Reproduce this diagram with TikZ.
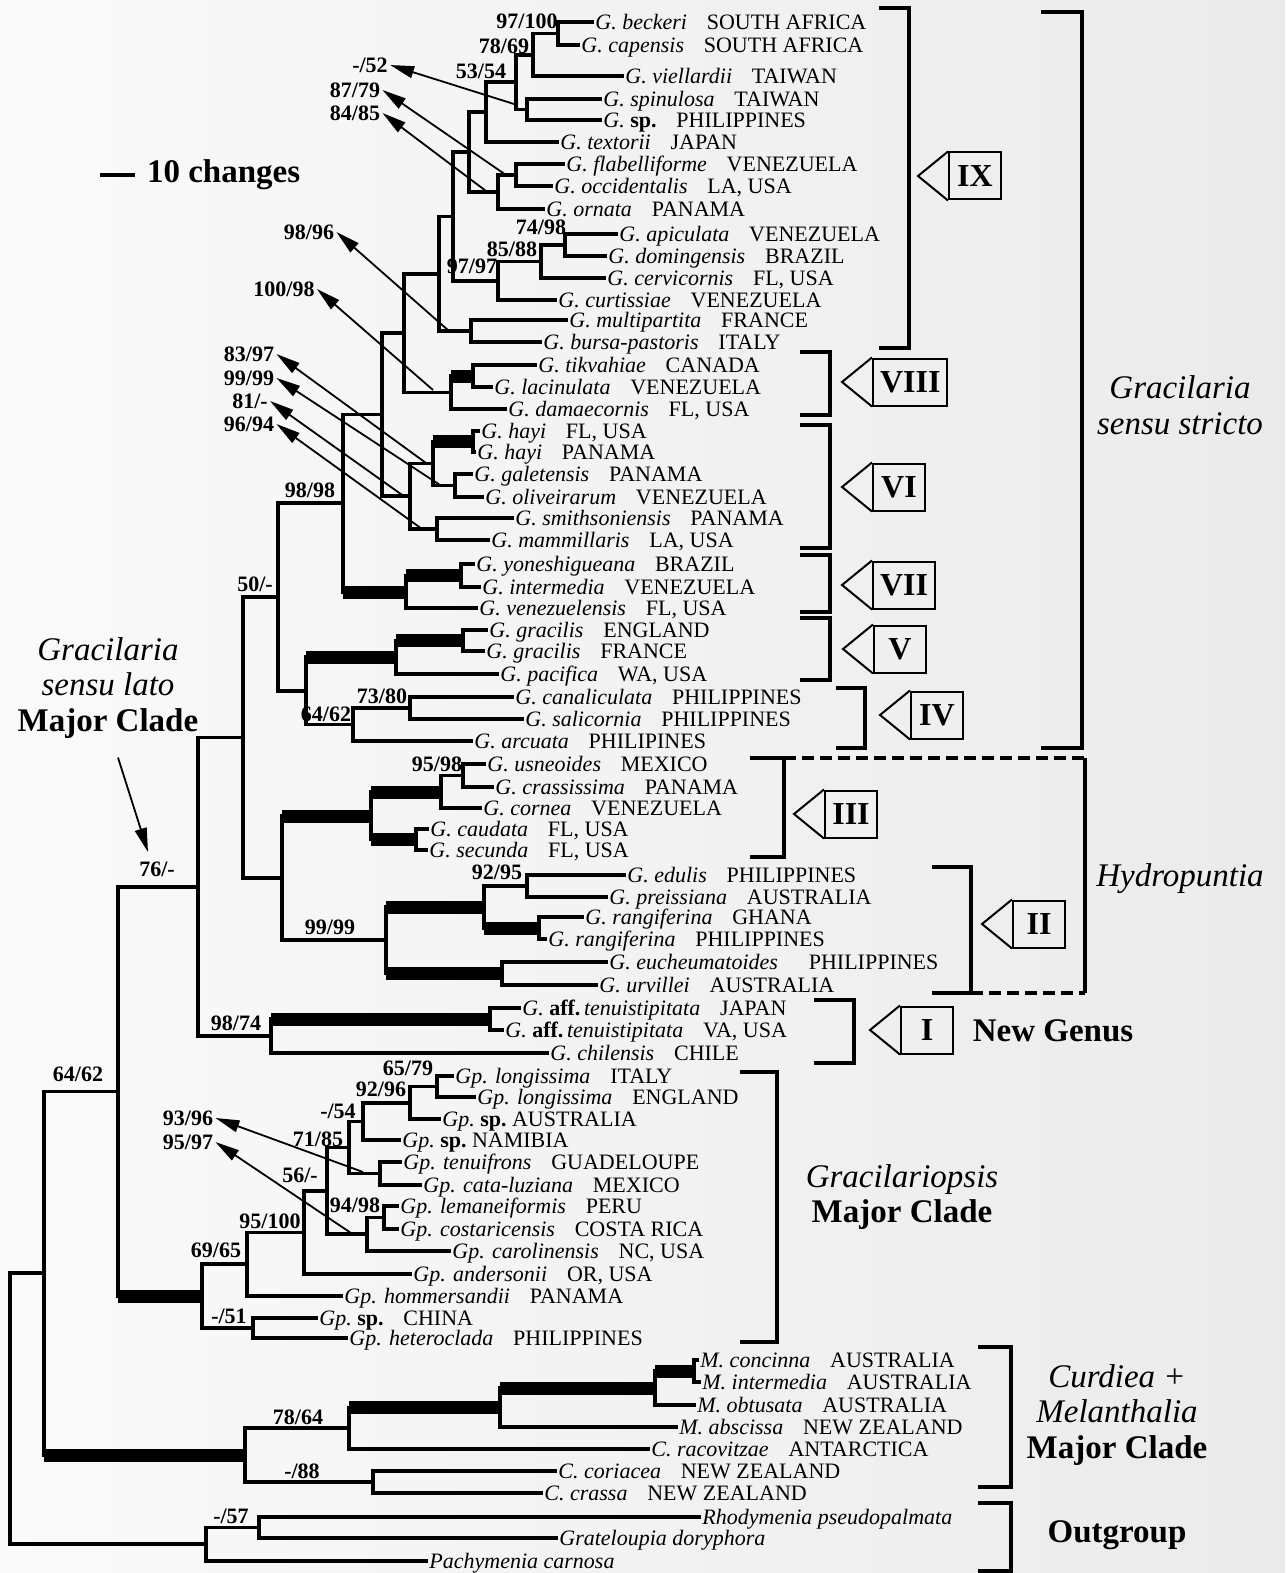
\documentclass[tikz,border=0pt]{standalone}
\usepackage{fontspec}
\setmainfont{Liberation Serif}
\usetikzlibrary{arrows.meta,calc}

% species name in italics, then the place
\newcommand\taxa[2]{\textit{#1}\hspace{.9em}#2}
% parent #1 joins #2 and #3 (#4, #5: extra style of the two branches)
\newcommand\clade[5]{%
  \draw[br] (#1 |- #2) -- (#1 |- #3);
  \draw[br,#4] (#1 |- #2) -- (#2);
  \draw[br,#5] (#1 |- #3) -- (#3);}

\begin{document}
\begin{tikzpicture}[x=0.5pt,y=-0.5pt,
  br/.style={line width=1.6pt,line cap=rect},
  thk/.style={line width=6.5pt,line cap=butt},
  taxon/.style={anchor=west,inner xsep=1.5pt,inner ysep=0pt,text height=7.3pt,text depth=0pt,font=\fontsize{11}{11}\selectfont},
  boot/.style={inner sep=1pt,font=\bfseries\fontsize{11}{11}\selectfont},
  ptr/.style={line width=0.9pt,-{Triangle[length=12pt,width=6pt]}},
  brk/.style={line width=2.2pt},
  numbox/.style={draw,line width=1pt,anchor=west,minimum height=23.5pt,minimum width=26pt,inner xsep=3.5pt,font=\bfseries\fontsize{16}{16}\selectfont},
  grp/.style={align=center,font=\fontsize{16.5}{17.75}\selectfont}]

\shade[left color=black!2,right color=black!8] (0,0) rectangle (1285,1573);
\useasboundingbox (0,0) rectangle (1285,1573);

% scale
\coordinate (bar) at (100,175);
\draw[line width=1.8pt] (bar) -- ++(35,0);
\node[anchor=west,font=\bfseries\fontsize{16.5}{16.5}\selectfont] (scl) at (140,175) {10 changes};

% taxa
\foreach \i/\px/\py/\txt in {
  1/592/22/{\taxa{G. beckeri}{SOUTH AFRICA}},
  2/578/45/{\taxa{G. capensis}{SOUTH AFRICA}},
  3/622/76/{\taxa{G. viellardii}{TAIWAN}},
  4/600/99/{\taxa{G. spinulosa}{TAIWAN}},
  5/600/120/{\textit{G.}~\textbf{sp.}\hspace{.9em}PHILIPPINES},
  6/557/142/{\taxa{G. textorii}{JAPAN}},
  7/563/164/{\taxa{G. flabelliforme}{VENEZUELA}},
  8/551/186/{\taxa{G. occidentalis}{LA, USA}},
  9/543/209/{\taxa{G. ornata}{PANAMA}},
  10/616/234/{\taxa{G. apiculata}{VENEZUELA}},
  11/605/256/{\taxa{G. domingensis}{BRAZIL}},
  12/604/278/{\taxa{G. cervicornis}{FL, USA}},
  13/555/300/{\taxa{G. curtissiae}{VENEZUELA}},
  14/566/320/{\taxa{G. multipartita}{FRANCE}},
  15/540/342/{\taxa{G. bursa-pastoris}{ITALY}},
  16/535/365/{\taxa{G. tikvahiae}{CANADA}},
  17/491/387/{\taxa{G. lacinulata}{VENEZUELA}},
  18/505/409/{\taxa{G. damaecornis}{FL, USA}},
  19/478/431/{\taxa{G. hayi}{FL, USA}},
  20/474/452/{\taxa{G. hayi}{PANAMA}},
  21/471/474/{\taxa{G. galetensis}{PANAMA}},
  22/482/497/{\taxa{G. oliveirarum}{VENEZUELA}},
  23/512/518/{\taxa{G. smithsoniensis}{PANAMA}},
  24/488/540/{\taxa{G. mammillaris}{LA, USA}},
  25/473/564/{\taxa{G. yoneshigueana}{BRAZIL}},
  26/479/587/{\taxa{G. intermedia}{VENEZUELA}},
  27/476/608/{\taxa{G. venezuelensis}{FL, USA}},
  28/486/630/{\taxa{G. gracilis}{ENGLAND}},
  29/483/651/{\taxa{G. gracilis}{FRANCE}},
  30/497/674/{\taxa{G. pacifica}{WA, USA}},
  31/512/697/{\taxa{G. canaliculata}{PHILIPPINES}},
  32/522/719/{\taxa{G. salicornia}{PHILIPPINES}},
  33/471/741/{\taxa{G. arcuata}{PHILIPINES}},
  34/484/764/{\taxa{G. usneoides}{MEXICO}},
  35/492/787/{\taxa{G. crassissima}{PANAMA}},
  36/480/808/{\taxa{G. cornea}{VENEZUELA}},
  37/427/829/{\taxa{G. caudata}{FL, USA}},
  38/426/850/{\taxa{G. secunda}{FL, USA}},
  39/624/875/{\taxa{G. edulis}{PHILIPPINES}},
  40/606/897/{\taxa{G. preissiana}{AUSTRALIA}},
  41/582/917/{\taxa{G. rangiferina}{GHANA}},
  42/545/939/{\taxa{G. rangiferina}{PHILIPPINES}},
  43/606/962/{\taxa{G. eucheumatoides}{\hspace{.5em}PHILIPPINES}},
  44/596/985/{\taxa{G. urvillei}{AUSTRALIA}},
  45/519/1008/{\textit{G.}~\textbf{aff.}\,\taxa{tenuistipitata}{JAPAN}},
  46/502/1030/{\textit{G.}~\textbf{aff.}\,\taxa{tenuistipitata}{VA, USA}},
  47/547/1053/{\taxa{G. chilensis}{CHILE}},
  48/452/1076/{\taxa{Gp. longissima}{ITALY}},
  49/474/1097/{\taxa{Gp. longissima}{ENGLAND}},
  50/439/1119/{\textit{Gp.}~\textbf{sp.}~AUSTRALIA},
  51/399/1140/{\textit{Gp.}~\textbf{sp.}~NAMIBIA},
  52/400/1162/{\taxa{Gp. tenuifrons}{GUADELOUPE}},
  53/420/1185/{\taxa{Gp. cata-luziana}{MEXICO}},
  54/397/1206/{\taxa{Gp. lemaneiformis}{PERU}},
  55/397/1229/{\taxa{Gp. costaricensis}{COSTA RICA}},
  56/449/1251/{\taxa{Gp. carolinensis}{NC, USA}},
  57/410/1274/{\taxa{Gp. andersonii}{OR, USA}},
  58/341/1296/{\taxa{Gp. hommersandii}{PANAMA}},
  59/316/1318/{\textit{Gp.}~\textbf{sp.}\hspace{.9em}CHINA},
  60/346/1338/{\taxa{Gp. heteroclada}{PHILIPPINES}},
  61/697/1360/{\taxa{M. concinna}{AUSTRALIA}},
  62/699/1382/{\taxa{M. intermedia}{AUSTRALIA}},
  63/694/1405/{\taxa{M. obtusata}{AUSTRALIA}},
  64/676/1427/{\taxa{M. abscissa}{NEW ZEALAND}},
  65/648/1449/{\taxa{C. racovitzae}{ANTARCTICA}},
  66/555/1471/{\taxa{C. coriacea}{NEW ZEALAND}},
  67/541/1493/{\taxa{C. crassa}{NEW ZEALAND}},
  68/699/1517/{\textit{Rhodymenia pseudopalmata}},
  69/556/1538/{\textit{Grateloupia doryphora}},
  70/426/1561/{\textit{Pachymenia carnosa}}}
  \node[taxon] (t\i) at (\px,\py) {\txt};

% inner nodes of the tree
\coordinate (a1) at (558,33.5);
\coordinate (a2) at (533,55);
\coordinate (a3) at (527,109.5);
\coordinate (a4) at (516,82);
\coordinate (a5) at (486,112);
\coordinate (a6) at (516,175);
\coordinate (a7) at (498,192);
\coordinate (a8) at (469,152);
\coordinate (a9) at (565,245);
\coordinate (a10) at (541,261.5);
\coordinate (a11) at (498,281);
\coordinate (a12) at (453,216.5);
\coordinate (a13) at (471,331);
\coordinate (a14) at (439,274);
\coordinate (b1) at (473,376);
\coordinate (b2) at (451,392.5);
\coordinate (a15) at (404,333);
\coordinate (c1) at (473,441.5);
\coordinate (c2) at (455,485.5);
\coordinate (c3) at (433,463.5);
\coordinate (c4) at (437,529);
\coordinate (c5) at (410,496);
\coordinate (a16) at (382,414.5);
\coordinate (d1) at (461,575.5);
\coordinate (d2) at (406,592);
\coordinate (a17) at (343,503);
\coordinate (e1) at (463,640.5);
\coordinate (e2) at (396,657);
\coordinate (f1) at (410,708);
\coordinate (f2) at (353,724.5);
\coordinate (g1) at (306,691);
\coordinate (g2) at (278,597);
\coordinate (h1) at (463,775.5);
\coordinate (h2) at (441,792);
\coordinate (h3) at (416,839.5);
\coordinate (h4) at (371,816);
\coordinate (i1) at (527,886);
\coordinate (i2) at (539,928);
\coordinate (i3) at (484,907);
\coordinate (i4) at (502,973.5);
\coordinate (i5) at (386,940);
\coordinate (j1) at (282,878);
\coordinate (j2) at (243,737.5);
\coordinate (k1) at (490,1019);
\coordinate (k2) at (271,1036);
\coordinate (j3) at (198,887);
\coordinate (l1) at (437,1086.5);
\coordinate (l2) at (410,1103);
\coordinate (l3) at (363,1121.5);
\coordinate (l4) at (380,1173.5);
\coordinate (l5) at (349,1147.5);
\coordinate (l6) at (384,1217.5);
\coordinate (l7) at (367,1234);
\coordinate (l8) at (327,1191);
\coordinate (l9) at (304,1232.5);
\coordinate (l10) at (247,1264);
\coordinate (l11) at (253,1328);
\coordinate (l12) at (202,1296);
\coordinate (j4) at (118,1091.5);
\coordinate (m1) at (694,1371);
\coordinate (m2) at (655,1388);
\coordinate (m3) at (500,1407.5);
\coordinate (m4) at (349,1428);
\coordinate (m5) at (373,1482);
\coordinate (m6) at (245,1455);
\coordinate (j5) at (44,1273);
\coordinate (o1) at (259,1527.5);
\coordinate (o2) at (206,1544);
\coordinate (root) at (10,1408.5);

% Gracilaria sensu stricto
\clade{a1}{t1.west}{t2.west}{}{}
\clade{a2}{a1}{t3.west}{}{}
\clade{a3}{t4.west}{t5.west}{}{}
\clade{a4}{a2}{a3}{}{}
\clade{a5}{a4}{t6.west}{}{}
\clade{a6}{t7.west}{t8.west}{}{}
\clade{a7}{a6}{t9.west}{}{}
\clade{a8}{a5}{a7}{}{}
\clade{a9}{t10.west}{t11.west}{}{}
\clade{a10}{a9}{t12.west}{}{}
\clade{a11}{a10}{t13.west}{}{}
\clade{a12}{a8}{a11}{}{}
\clade{a13}{t14.west}{t15.west}{}{}
\clade{a14}{a12}{a13}{}{}
\clade{b1}{t16.west}{t17.west}{}{}
\clade{b2}{b1}{t18.west}{thk}{}
\clade{a15}{a14}{b2}{}{}
\clade{c1}{t19.west}{t20.west}{}{}
\clade{c2}{t21.west}{t22.west}{}{}
\clade{c3}{c1}{c2}{thk}{}
\clade{c4}{t23.west}{t24.west}{}{}
\clade{c5}{c3}{c4}{}{}
\clade{a16}{a15}{c5}{}{}
\clade{d1}{t25.west}{t26.west}{}{}
\clade{d2}{d1}{t27.west}{thk}{}
\clade{a17}{a16}{d2}{}{thk}
\clade{e1}{t28.west}{t29.west}{}{}
\clade{e2}{e1}{t30.west}{thk}{}
\clade{f1}{t31.west}{t32.west}{}{}
\clade{f2}{f1}{t33.west}{}{}
\clade{g1}{e2}{f2}{thk}{}
\clade{g2}{a17}{g1}{}{}
% Hydropuntia
\clade{h1}{t34.west}{t35.west}{}{}
\clade{h2}{h1}{t36.west}{}{}
\clade{h3}{t37.west}{t38.west}{}{}
\clade{h4}{h2}{h3}{thk}{thk}
\clade{i1}{t39.west}{t40.west}{}{}
\clade{i2}{t41.west}{t42.west}{}{}
\clade{i3}{i1}{i2}{}{thk}
\clade{i4}{t43.west}{t44.west}{}{}
\clade{i5}{i3}{i4}{thk}{thk}
\clade{j1}{h4}{i5}{thk}{}
\clade{j2}{g2}{j1}{}{}
% new genus
\clade{k1}{t45.west}{t46.west}{}{}
\clade{k2}{k1}{t47.west}{thk}{}
\clade{j3}{j2}{k2}{}{}
% Gracilariopsis
\clade{l1}{t48.west}{t49.west}{}{}
\clade{l2}{l1}{t50.west}{}{}
\clade{l3}{l2}{t51.west}{}{}
\clade{l4}{t52.west}{t53.west}{}{}
\clade{l5}{l3}{l4}{}{}
\clade{l6}{t54.west}{t55.west}{}{}
\clade{l7}{l6}{t56.west}{}{}
\clade{l8}{l5}{l7}{}{}
\clade{l9}{l8}{t57.west}{}{}
\clade{l10}{l9}{t58.west}{}{}
\clade{l11}{t59.west}{t60.west}{}{}
\clade{l12}{l10}{l11}{}{}
\clade{j4}{j3}{l12}{}{thk}
% Curdiea + Melanthalia
\clade{m1}{t61.west}{t62.west}{}{}
\clade{m2}{m1}{t63.west}{thk}{}
\clade{m3}{m2}{t64.west}{thk}{}
\clade{m4}{m3}{t65.west}{thk}{}
\clade{m5}{t66.west}{t67.west}{}{}
\clade{m6}{m4}{m5}{}{}
\clade{j5}{j4}{m6}{}{thk}
% outgroup and root
\clade{o1}{t68.west}{t69.west}{}{}
\clade{o2}{o1}{t70.west}{}{}
\clade{root}{j5}{o2}{}{}

% support values
\foreach \n/\px/\py/\v in {
  s1/527/21/{97/100}, s2/504/46/{78/69}, s3/481/71/{53/54},
  s4/370/65/{-/52}, s5/355/90/{87/79}, s6/355/113/{84/85},
  s7/541/227/{74/98}, s8/512/249/{85/88}, s9/472/266/{97/97},
  s10/309/232/{98/96}, s11/284/289/{100/98}, s12/249/354/{83/97},
  s13/249/378/{99/99}, s14/250/401/{81/-}, s15/249/424/{96/94},
  s16/310/490/{98/98}, s17/255/584/{50/-}, s18/382/696/{73/80},
  s19/326/714/{64/62}, s20/437/764/{95/98}, s21/157/869/{76/-},
  s22/497/872/{92/95}, s23/330/927/{99/99}, s24/236/1023/{98/74},
  s25/78/1074/{64/62}, s26/408/1068/{65/79}, s27/381/1089/{92/96},
  s28/338/1111/{-/54}, s29/188/1118/{93/96}, s30/318/1139/{71/85},
  s31/188/1142/{95/97}, s32/300/1175/{56/-}, s33/355/1205/{94/98},
  s34/270/1221/{95/100}, s35/216/1250/{69/65}, s36/229/1316/{-/51},
  s37/298/1417/{78/64}, s38/302/1471/{-/88}, s39/231/1516/{-/57}}
  \node[boot] (\n) at (\px,\py) {\v};

% arrows from branches to their values
\foreach \n/\px/\py in {q1/514/104, q2/506/175, q3/486/191, q4/449/331,
  q5/433/390, q6/426/463, q7/440/485, q8/405/497, q9/422/529,
  q10/363/1172, q11/351/1233}
  \coordinate (\n) at (\px,\py);
\foreach \q/\s in {q1/s4, q2/s5, q3/s6, q4/s10, q5/s11, q6/s12, q7/s13,
  q8/s14, q9/s15, q10/s29, q11/s31}
  \draw[ptr] (\q) -- (\s.east);

% clade brackets
\draw[brk] (879,8) -- (909,8) -- (909,348) -- (879,348);
\draw[brk] (800,352) -- (830,352) -- (830,415) -- (800,415);
\draw[brk] (800,425) -- (830,425) -- (830,548) -- (800,548);
\draw[brk] (800,555) -- (830,555) -- (830,612) -- (800,612);
\draw[brk] (800,618) -- (830,618) -- (830,680) -- (800,680);
\draw[brk] (836,688) -- (865,688) -- (865,748) -- (836,748);
\draw[brk] (750,758) -- (784,758) -- (784,857) -- (750,857);
\draw[brk] (932,867) -- (971,867) -- (971,993) -- (932,993);
\draw[brk] (814,1000) -- (854,1000) -- (854,1063) -- (814,1063);
\draw[brk] (1041,12) -- (1082,12) -- (1082,748) -- (1041,748);
\draw[brk] (1085,758) -- (1085,993);
\draw[brk,dash pattern=on 6pt off 3pt] (784,758) -- (1085,758) (971,993) -- (1085,993);
\draw[brk] (740,1072) -- (777,1072) -- (777,1342) -- (740,1342);
\draw[brk] (978,1347) -- (1011,1347) -- (1011,1487) -- (978,1487);
\draw[brk] (978,1503) -- (1011,1503) -- (1011,1571) -- (978,1571);

% numbered groups
\foreach \n/\px/\py/\v in {nIX/948/176/IX, nVIII/872/382/VIII, nVI/872/487/VI,
  nVII/872/585/VII, nV/873/649/V, nIV/910/715/IV, nIII/824/814/III,
  nII/1012/924/II, nI/900/1030/I} {
  \node[numbox] (\n) at (\px,\py) {\v};
  \draw[line width=1pt] (\n.north west) -- ([xshift=-15pt]\n.west) -- (\n.south west);
}

% group names
\node[grp] (gss) at (1180,405) {\textit{Gracilaria}\\\textit{sensu stricto}};
\node[grp] (hyd) at (1180,879) {\textit{Hydropuntia}};
\node[grp] (ngen) at (1053,1031) {\textbf{New Genus}};
\node[grp] (gps) at (902,1197) {\textit{Gracilariopsis}\\\textbf{Major Clade}};
\node[grp] (cur) at (1117,1415) {\textit{Curdiea +}\\\textit{Melanthalia}\\\textbf{Major Clade}};
\node[grp] (outg) at (1117,1535) {\textbf{Outgroup}};
\node[grp] (gsl) at (108,688) {\textit{Gracilaria}\\\textit{sensu lato}\\\textbf{Major Clade}};
\coordinate (gslTip) at (148,852);
\draw[ptr] ([xshift=5pt,yshift=-6pt]gsl.south) -- (gslTip);
\end{tikzpicture}
\end{document}
